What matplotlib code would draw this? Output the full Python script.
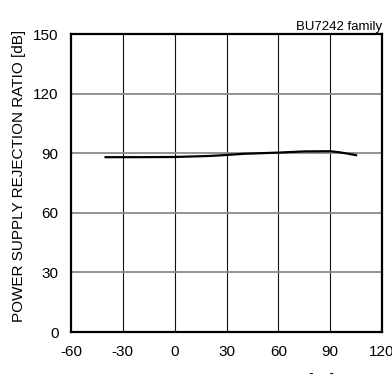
import matplotlib
matplotlib.use("Agg")
import matplotlib.pyplot as plt

temps = [-40, -20, 0, 20, 30, 40, 50, 60, 75, 90, 95, 100, 105]
psrr = [88, 88, 88.1, 88.6, 89.1, 89.7, 90.0, 90.3, 90.9, 91.0, 90.5, 89.8, 89.0]

xticks = [-60, -30, 0, 30, 60, 90, 120]
yticks = [0, 30, 60, 90, 120, 150]

plt.rcParams['font.family'] = ['Liberation Sans', 'DejaVu Sans']
plt.rcParams['axes.unicode_minus'] = False

W, H = 392, 374
fig = plt.figure(figsize=(W/100, H/100), dpi=100)
ax = fig.add_axes([71/W, 1-332/H, (382-71)/W, (332-34)/H])

ax.plot(temps, psrr, color='black', lw=1.6, zorder=3)

ax.set_xlim(-60, 120)
ax.set_ylim(0, 150)
ax.set_xticks(xticks)
ax.set_yticks(yticks)
ax.set_xticklabels([str(v) for v in xticks])
ax.set_yticklabels([str(v) for v in yticks])
ax.tick_params(length=0, labelsize=11)
ax.tick_params(axis='x', pad=9)
ax.tick_params(axis='y', pad=9)
for x in xticks[1:-1]:
    ax.axvline(x, color='#111111', lw=0.8, zorder=1)
for y in yticks[1:-1]:
    ax.axhline(y, color='#8a8a8a', lw=1.3, zorder=1)
for s in ax.spines.values():
    s.set_linewidth(1.6)

ax.set_ylabel('POWER SUPPLY REJECTION RATIO [dB]', fontsize=11)
ax.yaxis.set_label_coords(-45/311, 0.5 + 7/298)
ax.set_xlabel('AMBIENT TEMPERATURE [°C]', fontsize=11, va='top')
ax.xaxis.set_label_coords(0.5, -41/298)
ax.text(1.0, 1.003, 'BU7242 family', transform=ax.transAxes, ha='right', va='bottom', fontsize=9.5)

fig.savefig('out.png', dpi=100)
